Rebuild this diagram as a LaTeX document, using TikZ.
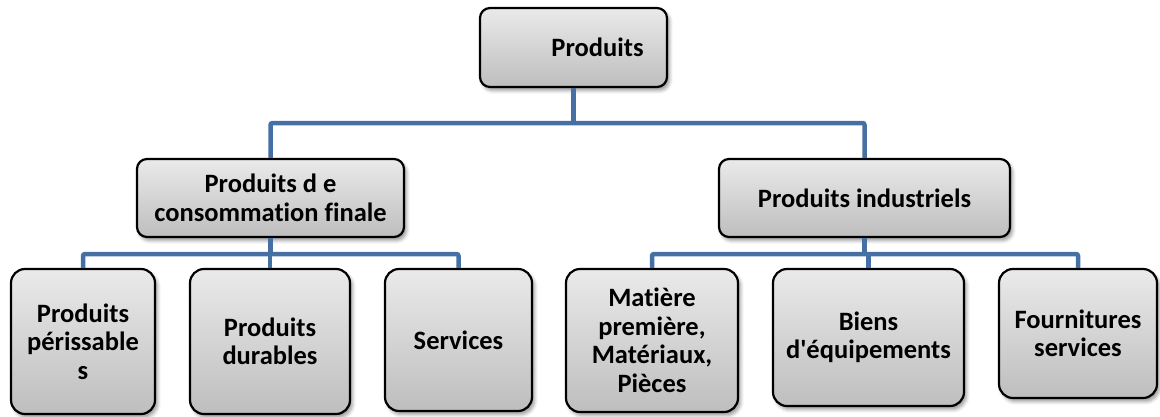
\documentclass[tikz,border=0pt]{standalone}
\usepackage{fontspec}
% plain family: straight apostrophe, no "ti" ligature
\newfontfamily\boxfont{Carlito}[Ligatures=NoCommon]
\usetikzlibrary{shadows.blur}

\definecolor{boxtop}{RGB}{234,234,234}
\definecolor{boxbot}{RGB}{190,190,190}
\definecolor{linkblue}{RGB}{68,112,164}

\tikzset{
  box/.style={draw=black, line width=2.2pt, rounded corners=10pt,
    top color=boxtop, bottom color=boxbot, align=center, inner sep=2pt,
    font=\boxfont\bfseries\fontsize{26.5}{28.5}\selectfont,
    blur shadow={shadow xshift=2.5pt, shadow yshift=-3.5pt,
      shadow blur radius=3.5pt, shadow opacity=40}},
  leafbox/.style={box, rounded corners=14pt},
  conn/.style={draw=linkblue, line width=4.5pt, rounded corners=2pt}
}

\begin{document}
\begin{tikzpicture}[x=1pt, y=-1pt]
\useasboundingbox (0,0) rectangle (1160,416);

% root and the two main families
\node[box, minimum width=187pt, minimum height=79pt] (top) at (573.5,47.5)
  {\hspace*{48pt}Produits};
\node[box, minimum width=267pt, minimum height=78pt] (midL) at (270.5,198)
  {Produits d e\\consommation finale};
\node[box, minimum width=291pt, minimum height=78pt] (midR) at (864.5,198)
  {Produits industriels};

% consumer goods
\node[leafbox, minimum width=144pt, minimum height=145pt] (b1) at (83,341.5)
  {Produits\\périssable\\s};
\node[leafbox, minimum width=160pt, minimum height=145pt] (b2) at (270,341.5)
  {Produits\\durables};
\node[leafbox, minimum width=147pt, minimum height=142pt] (b3) at (458.5,340)
  {Services};

% industrial goods
\node[leafbox, minimum width=172pt, minimum height=143pt] (b4) at (652,340.5)
  {Matière\\première,\\Matériaux,\\Pièces};
\node[leafbox, minimum width=191pt, minimum height=137pt] (b5) at (868.5,337.5)
  {Biens\\d'équipements};
\node[leafbox, minimum width=158pt, minimum height=129pt] (b6) at (1078,333.5)
  {Fournitures\\services};

% junction points of the buses
\coordinate (jT) at (573.5,123);
\coordinate (jL) at (270.5,254);
\coordinate (jR) at (864.5,254);

% connectors
\draw[conn] (top.south) -- (jT);
\draw[conn] (midL.north) |- (jT) -| (midR.north);

\draw[conn] (midL.south) -- (jL);
\draw[conn] (b1.north) |- (jL) -| (b3.north);
\draw[conn] (b2.north) -- (b2.north |- jL);

\draw[conn] (midR.south) -- (jR);
\draw[conn] (b4.north) |- (jR) -| (b6.north);
\draw[conn] (b5.north) -- (b5.north |- jR);
\end{tikzpicture}
\end{document}
